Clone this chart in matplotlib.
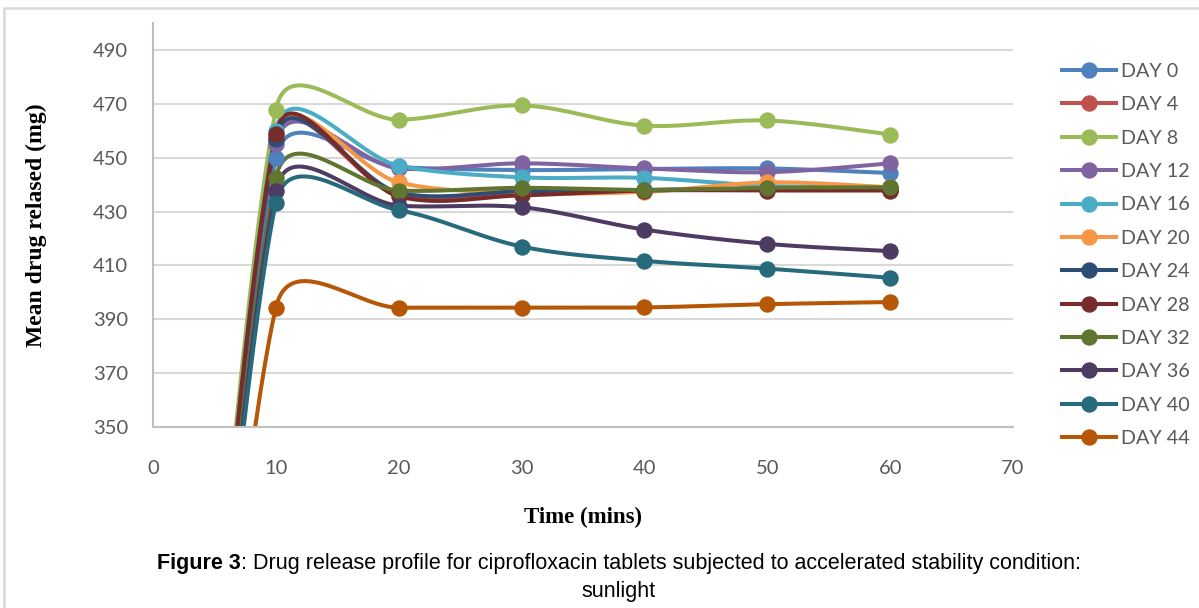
import numpy as np
import matplotlib.pyplot as plt
from matplotlib import font_manager
from matplotlib.patches import Rectangle

# sampling times (mins)
time = [0, 10, 20, 30, 40, 50, 60]

day0 = [0, 450.0, 446.5, 445.4, 445.8, 446.0, 444.3]
day4 = [0, 457.0, 436.0, 437.0, 438.0, 438.5, 438.0]
day8 = [0, 467.8, 464.1, 469.4, 461.9, 463.8, 458.6]
day12 = [0, 455.0, 446.0, 447.9, 446.0, 444.6, 447.9]
day16 = [0, 460.0, 447.0, 442.7, 442.5, 439.5, 439.0]
day20 = [0, 458.0, 440.8, 437.0, 437.3, 440.8, 439.0]
day24 = [0, 457.0, 437.0, 437.5, 438.0, 438.5, 438.5]
day28 = [0, 458.8, 435.6, 436.0, 437.8, 437.8, 437.8]
day32 = [0, 442.5, 437.8, 438.8, 438.0, 438.8, 439.0]
day36 = [0, 437.8, 432.2, 431.6, 423.3, 418.0, 415.3]
day40 = [0, 433.2, 430.5, 417.0, 411.7, 408.8, 405.4]
day44 = [0, 394.3, 394.3, 394.3, 394.4, 395.6, 396.4]

labels = ["DAY 0", "DAY 4", "DAY 8", "DAY 12", "DAY 16", "DAY 20",
          "DAY 24", "DAY 28", "DAY 32", "DAY 36", "DAY 40", "DAY 44"]
series = [day0, day4, day8, day12, day16, day20,
          day24, day28, day32, day36, day40, day44]
colors = ["#4F81BD", "#C0504D", "#9BBB59", "#8064A2", "#4BACC6", "#F79646",
          "#2C4D75", "#772C2A", "#5F7530", "#4D3B62", "#276A7C", "#B65708"]


def clamp(v, lim):
    n = np.hypot(*v)
    return v if n <= lim or n == 0 else v * lim / n


def smooth(xs, ys, sx, sy, cap=0.5, n=60):
    # excel-like bezier smoothing, done in screen-scaled space
    p = np.column_stack([np.array(xs) * sx, np.array(ys) * sy])
    m = len(p)
    tan = [(p[min(i + 1, m - 1)] - p[max(i - 1, 0)]) / 6 for i in range(m)]
    out = []
    for i in range(m - 1):
        p1, p2 = p[i], p[i + 1]
        d = np.hypot(*(p2 - p1))
        c1 = p1 + clamp(tan[i], cap * d)
        c2 = p2 - clamp(tan[i + 1], cap * d)
        t = np.linspace(0, 1, n)[:, None]
        b = ((1 - t) ** 3) * p1 + 3 * ((1 - t) ** 2) * t * c1 + 3 * (1 - t) * t ** 2 * c2 + t ** 3 * p2
        out.append(b)
    b = np.vstack(out)
    return b[:, 0] / sx, b[:, 1] / sy


W, H = 1199, 608
fig = plt.figure(figsize=(W / 100, H / 100), dpi=100)
ax = fig.add_axes([153 / W, 1 - 427 / H, 860 / W, 404 / H])

# pixels per data unit, used for the smoothing
sx = 860 / 70
sy = 404 / 150

for lab, ys, c in zip(labels, series, colors):
    cx, cy = smooth(time, ys, sx, sy)
    ax.plot(cx, cy, color=c, lw=2.9, solid_capstyle='round', zorder=2)
    ax.plot(time, ys, 'o', color=c, ms=10.8, zorder=3)
    ax.plot([], [], '-o', color=c, lw=2.9, ms=10.8, label=lab)

ax.set_xlim(0, 70)
ax.set_ylim(350, 500)
ax.set_xticks(range(0, 71, 10))
ax.set_yticks(range(350, 491, 20))
ax.grid(axis='y', color='#D9D9D9', lw=1.5)
ax.set_axisbelow(True)
for s in ['top', 'right']:
    ax.spines[s].set_visible(False)
for s in ['left', 'bottom']:
    ax.spines[s].set_color('#BFBFBF')
    ax.spines[s].set_linewidth(1.5)
ax.tick_params(length=0, labelsize=14.5, labelcolor='#595959')
ax.tick_params(axis='x', pad=24)
ax.tick_params(axis='y', pad=18)
for t in ax.get_xticklabels() + ax.get_yticklabels():
    t.set_family(['Lato', 'DejaVu Sans'])

ax.set_ylabel("Mean drug relased (mg)", family='Liberation Serif', fontweight='bold',
              fontsize=17)
ax.yaxis.set_label_coords((47 - 153) / 860, 0.5)
ax.set_xlabel("Time (mins)", family='Liberation Serif', fontweight='bold', fontsize=16.5)
ax.xaxis.set_label_coords(0.5, -(507 - 427) / 404)

leg = ax.legend(loc='upper left', bbox_to_anchor=(1062 / W, 1 - 63 / H),
                bbox_transform=fig.transFigure, frameon=False, borderpad=0,
                borderaxespad=0, handlelength=2.75, handletextpad=0.25,
                labelspacing=0.83, prop={'family': ['Lato', 'DejaVu Sans'], 'size': 14.2})
for t in leg.get_texts():
    t.set_color('#595959')

# outer chart frame
fig.patches.append(Rectangle((4 / W, -0.01), 1.2, 1 - 8 / H + 0.01, transform=fig.transFigure,
                             fill=False, edgecolor='#D9D9D9', lw=1.8))

# caption
names = {f.name for f in font_manager.fontManager.ttflist}
cap_font = 'Liberation Sans Narrow' if 'Liberation Sans Narrow' in names else 'Liberation Sans'
t1 = fig.text(0, 1 - 564 / H, "Figure 3", family=cap_font, fontweight='bold',
              fontsize=15.5, va='center', ha='left')
t2 = fig.text(0, 1 - 564 / H, ": Drug release profile for ciprofloxacin tablets subjected to "
              "accelerated stability condition:", family=cap_font, fontsize=15.5,
              va='center', ha='left')
fig.text(619 / W, 1 - 591 / H, "sunlight", family=cap_font, fontsize=15.5,
         va='center', ha='center')
r = fig.canvas.get_renderer()
w1 = t1.get_window_extent(r).width
w2 = t2.get_window_extent(r).width
x0 = 619 - (w1 + w2) / 2
t1.set_x(x0 / W)
t2.set_x((x0 + w1) / W)

fig.savefig('out.png', dpi=100)
